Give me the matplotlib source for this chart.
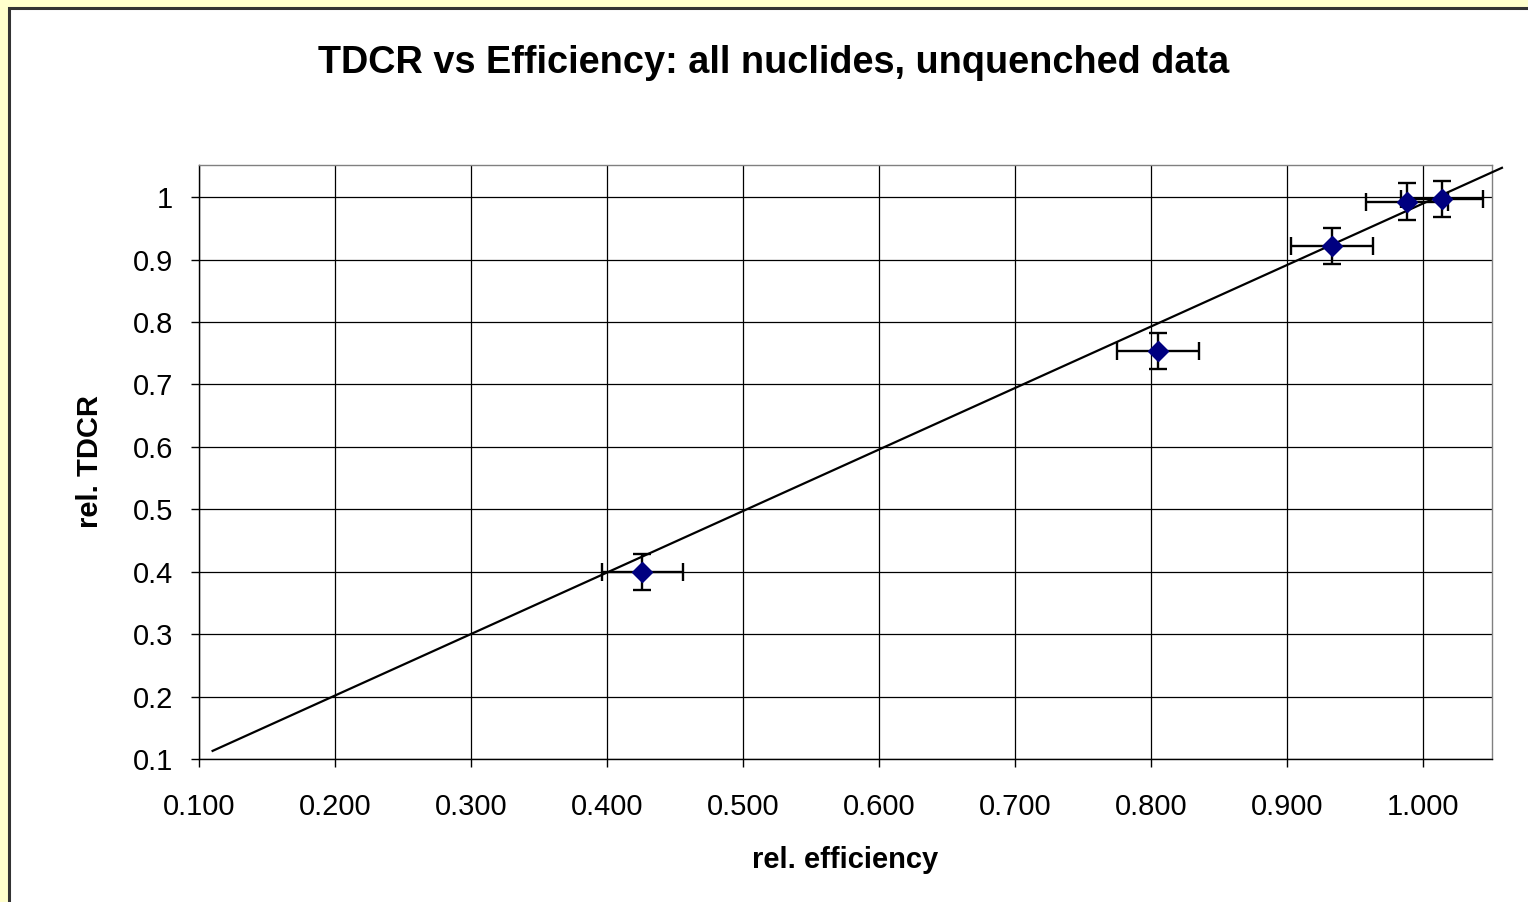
import numpy as np
import matplotlib
matplotlib.use("Agg")
import matplotlib.pyplot as plt
from matplotlib.patches import Rectangle

plt.rcParams['font.family'] = ['Liberation Sans', 'DejaVu Sans']

# measured points (rel. efficiency, rel. TDCR) with errors
rel_eff = [0.426, 0.805, 0.933, 0.988, 1.014]
rel_tdcr = [0.400, 0.754, 0.922, 0.993, 0.997]
eff_err = [0.030, 0.030, 0.030, 0.030, 0.030]
tdcr_err = [0.029, 0.029, 0.029, 0.029, 0.029]

# trend line end points
trend_x = [0.110, 1.058]
trend_y = [0.113, 1.047]

x_ticks = [0.1, 0.2, 0.3, 0.4, 0.5, 0.6, 0.7, 0.8, 0.9, 1.0]
y_ticks = [0.1, 0.2, 0.3, 0.4, 0.5, 0.6, 0.7, 0.8, 0.9, 1.0]
y_labels = ['0.1', '0.2', '0.3', '0.4', '0.5', '0.6', '0.7', '0.8', '0.9', '1']

W, H = 1528, 902
fig = plt.figure(figsize=(W / 100, H / 100), dpi=100, facecolor='#FFFFCC')

# white chart area with dark border (extends past right/bottom edges)
fig.patches.append(Rectangle((9 / W, -0.1), 1.2, 1.1 - 7.5 / H, transform=fig.transFigure,
                             facecolor='white', edgecolor='#333333', linewidth=2.2, zorder=-5))

ax = fig.add_axes([199 / W, 1 - 759 / H, (1492 - 199) / W, (759 - 165) / H])
ax.set_zorder(2)
ax.set_facecolor('white')
ax.set_xlim(0.1, 1.0507)
ax.set_ylim(0.1, 1.0515)

ax.set_xticks(x_ticks)
ax.set_xticklabels(['%.3f' % v for v in x_ticks])
ax.set_yticks(y_ticks)
ax.set_yticklabels(y_labels)
ax.tick_params(direction='out', length=5.5, width=1, labelsize=21, color='black')
ax.tick_params(axis='x', pad=19)
ax.tick_params(axis='y', pad=13)
ax.grid(True, color='black', linewidth=0.9)
ax.set_axisbelow(True)
for side in ['top', 'right']:
    ax.spines[side].set_color('#808080')
    ax.spines[side].set_linewidth(1.0)
for side in ['left', 'bottom']:
    ax.spines[side].set_color('black')
    ax.spines[side].set_linewidth(1.0)

ax.plot(trend_x, trend_y, color='black', linewidth=1.6, clip_on=False, zorder=3)

ax.errorbar(rel_eff, rel_tdcr, xerr=eff_err, yerr=tdcr_err, fmt='none', ecolor='black',
            elinewidth=1.7, capsize=6.5, capthick=1.7, zorder=4)
ax.plot(rel_eff, rel_tdcr, linestyle='none', marker='D', markersize=10,
        color='#000080', markeredgecolor='#000080', zorder=5)

fig.text(774 / W, 1 - 63 / H, 'TDCR vs Efficiency: all nuclides, unquenched data',
         ha='center', va='center', fontsize=27.3, fontweight='bold')
fig.text(845 / W, 1 - 860 / H, 'rel. efficiency', ha='center', va='center',
         fontsize=21, fontweight='bold')
fig.text(90 / W, 1 - 461 / H, 'rel. TDCR', ha='center', va='center', rotation=90,
         fontsize=21, fontweight='bold')

fig.savefig('out.png', dpi=100, facecolor=fig.get_facecolor())
